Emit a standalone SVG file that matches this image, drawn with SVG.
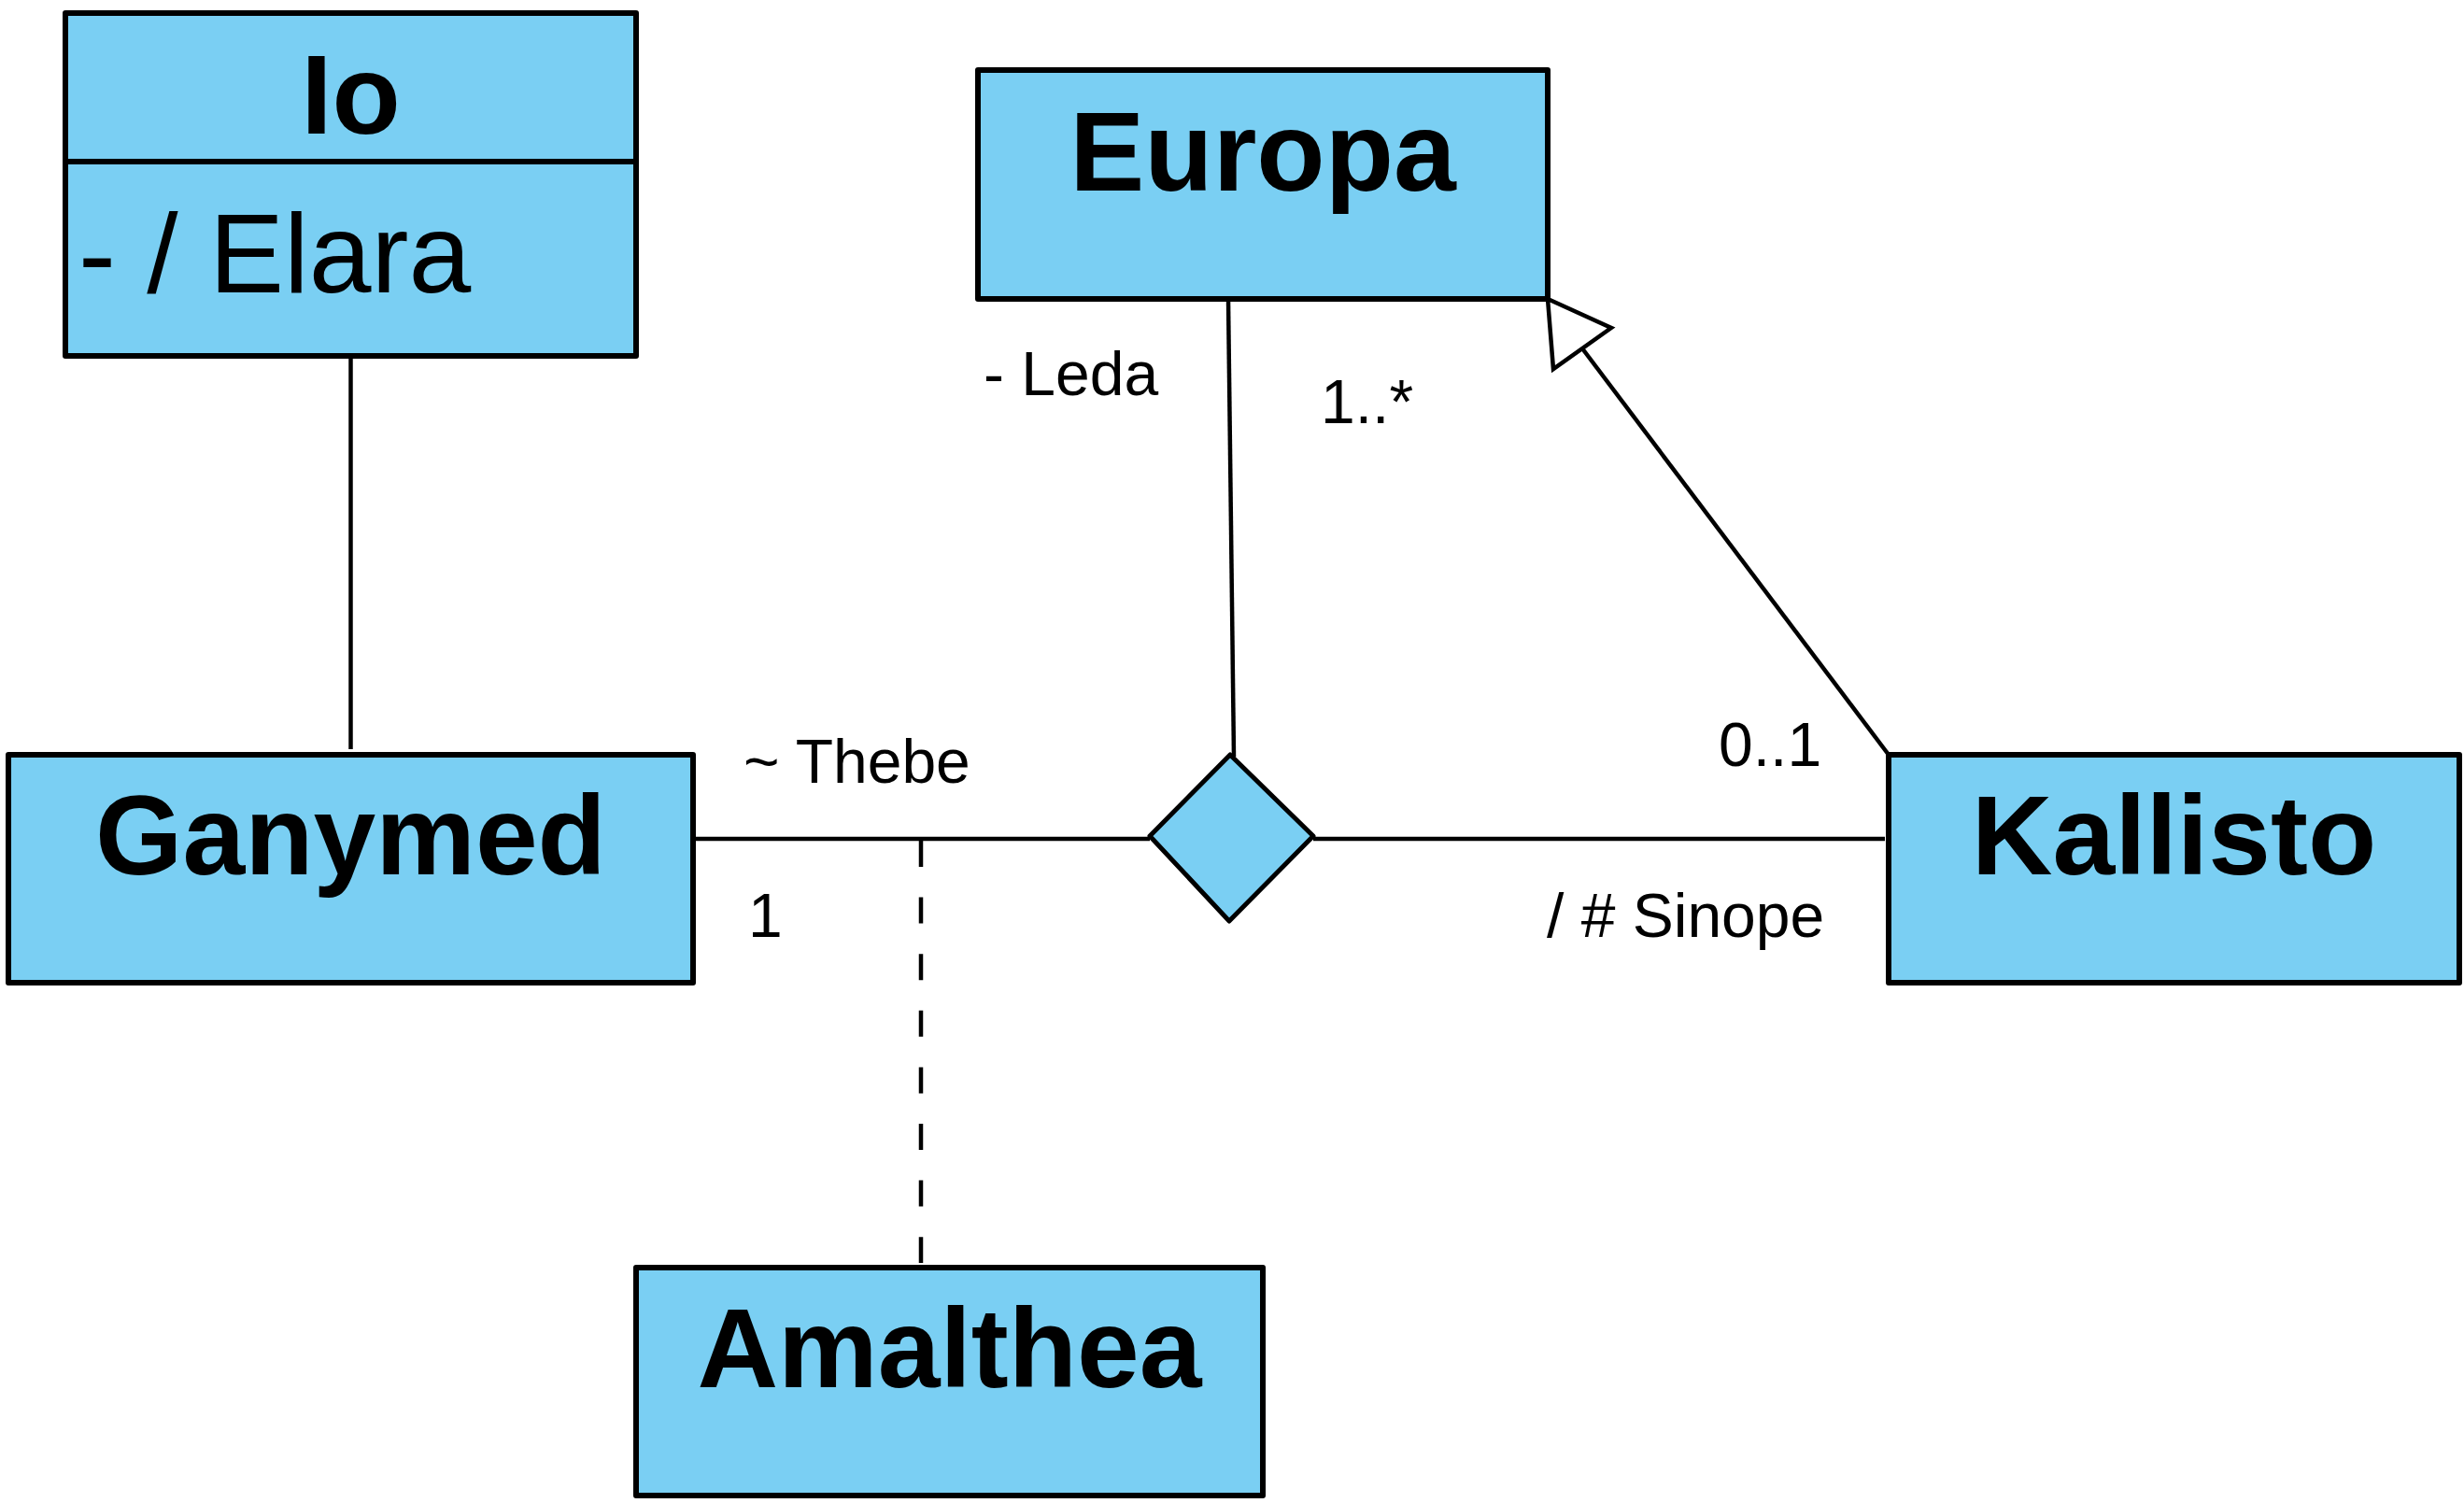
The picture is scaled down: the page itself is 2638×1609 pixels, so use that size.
<svg xmlns="http://www.w3.org/2000/svg" width="2638" height="1609" viewBox="0 0 2638 1609">
<style>
.box{fill:#7ACFF3;stroke:#000;stroke-width:6;stroke-linejoin:round}
.title{font-family:"Liberation Sans",Arial,sans-serif;font-weight:bold;font-size:120px;fill:#000;text-anchor:middle}
.attr{font-family:"Liberation Sans",Arial,sans-serif;font-size:120px;fill:#000}
.lbl{font-family:"Liberation Sans",Arial,sans-serif;font-size:66px;fill:#000}
.conn{stroke:#000;stroke-width:4.5;fill:none}
</style>
<rect width="2638" height="1609" fill="#fff"/>
<g id="connectors">
<line class="conn" x1="375.5" y1="382" x2="375.5" y2="802"/>
<line class="conn" x1="742" y1="898" x2="1231" y2="898"/>
<line class="conn" x1="1406" y1="898" x2="2018" y2="898"/>
<line class="conn" x1="1315" y1="320" x2="1321" y2="810"/>
<line class="conn" x1="986" y1="900" x2="986" y2="1352" stroke-dasharray="28 32.6"/>
<line class="conn" x1="2022" y1="808" x2="1694" y2="373"/>
<polygon class="conn" points="1657,320 1725,351 1663,395" fill="#fff" stroke-linejoin="miter"/>
<polygon points="1231,895 1317,808 1406,895 1316,986" fill="#7ACFF3" stroke="#000" stroke-width="5" stroke-linejoin="round"/>
<text class="lbl" x="1053" y="423">- Leda</text>
<text class="lbl" x="1414" y="453">1..*</text>
<text class="lbl" x="796" y="838">~ Thebe</text>
<text class="lbl" x="801" y="1003">1</text>
<text class="lbl" x="1840" y="820">0..1</text>
<text class="lbl" x="1656" y="1003">/ # Sinope</text>
</g>
<g id="Io">
<rect class="box" x="70" y="14" width="611" height="367"/>
<line x1="70" y1="173" x2="681" y2="173" stroke="#000" stroke-width="6"/>
<text class="title" x="375.5" y="143">Io</text>
<text class="attr" x="84" y="313">- / Elara</text>
</g>
<g id="Europa">
<rect class="box" x="1047" y="75" width="610" height="245"/>
<text class="title" x="1352" y="204">Europa</text>
</g>
<g id="Ganymed">
<rect class="box" x="9" y="808" width="733" height="244"/>
<text class="title" x="375.5" y="936">Ganymed</text>
</g>
<g id="Kallisto">
<rect class="box" x="2022" y="808" width="611" height="244"/>
<text class="title" x="2327.5" y="936">Kallisto</text>
</g>
<g id="Amalthea">
<rect class="box" x="681" y="1357" width="671" height="244"/>
<text class="title" x="1016.5" y="1485">Amalthea</text>
</g>
</svg>
